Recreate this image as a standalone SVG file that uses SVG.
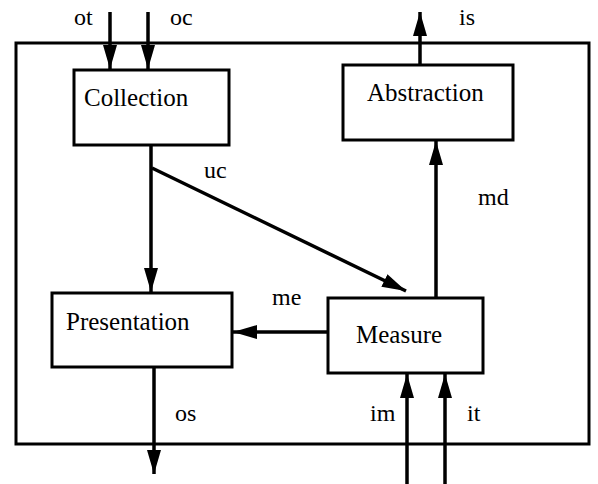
<svg xmlns="http://www.w3.org/2000/svg" width="598" height="484" viewBox="0 0 598 484">
<style>
.box{fill:#fff;stroke:#000;stroke-width:3}
.frame{fill:none;stroke:#000;stroke-width:3}
.c{fill:none;stroke:#000;stroke-width:3.5}
text{font-family:'Liberation Serif','Times New Roman',Times,serif;fill:#000}
.t{font-size:25px}
.l{font-size:24px}
</style>
<defs>
<marker id="ah" markerUnits="userSpaceOnUse" markerWidth="26" markerHeight="16" viewBox="0 0 26 16" refX="24" refY="8" orient="auto">
<path d="M0,1 L24,8 L0,15 Z" fill="#000"/>
</marker>
</defs>
<rect class="frame" x="16" y="43" width="573" height="401"/>
<g id="connectors">
<path class="c" d="M110,12 V69" marker-end="url(#ah)"/>
<path class="c" d="M148,12 V69" marker-end="url(#ah)"/>
<path class="c" d="M420,65 V12" marker-end="url(#ah)"/>
<path class="c" d="M151,146 V292" marker-end="url(#ah)"/>
<path class="c" d="M152,168 L406,291" marker-end="url(#ah)"/>
<path class="c" d="M436,298 V141" marker-end="url(#ah)"/>
<path class="c" d="M328,332 H233" marker-end="url(#ah)"/>
<path class="c" d="M154,368 V474" marker-end="url(#ah)"/>
<path class="c" d="M407,484 V374" marker-end="url(#ah)"/>
<path class="c" d="M445,484 V374" marker-end="url(#ah)"/>
<text class="l" x="74" y="25">ot</text>
<text class="l" x="170" y="25">oc</text>
<text class="l" x="459" y="25">is</text>
<text class="l" x="204" y="178">uc</text>
<text class="l" x="478" y="205">md</text>
<text class="l" x="272" y="305">me</text>
<text class="l" x="175" y="421">os</text>
<text class="l" x="370" y="421">im</text>
<text class="l" x="467" y="421">it</text>
</g>
<g id="collection">
<rect class="box" x="74" y="70" width="155" height="75"/>
<text class="t" x="84" y="106">Collection</text>
</g>
<g id="abstraction">
<rect class="box" x="343" y="65" width="170" height="75"/>
<text class="t" x="367" y="101">Abstraction</text>
</g>
<g id="presentation">
<rect class="box" x="52" y="293" width="180" height="74"/>
<text class="t" x="66" y="330">Presentation</text>
</g>
<g id="measure">
<rect class="box" x="328" y="298" width="155" height="75"/>
<text class="t" x="356" y="343">Measure</text>
</g>
</svg>
